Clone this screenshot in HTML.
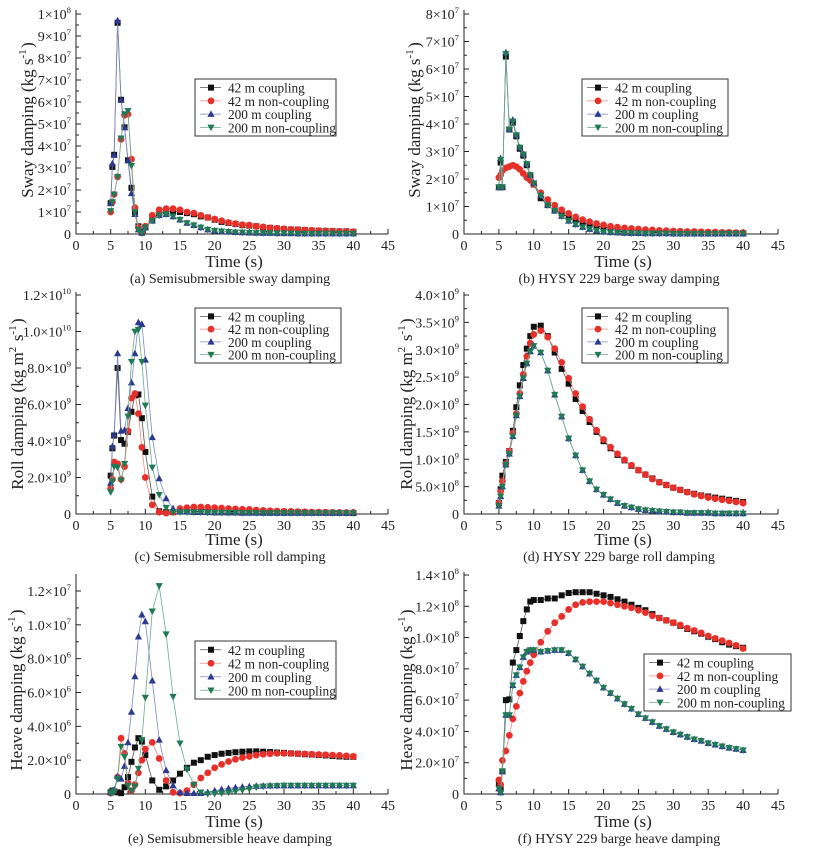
<!DOCTYPE html>
<html><head><meta charset="utf-8"><style>
html,body{margin:0;padding:0;background:#fff;}
svg, svg text, svg tspan{font-family:"Liberation Serif","DejaVu Serif",serif;}
</style></head><body>
<svg id="fig" width="831" height="859" viewBox="0 0 831 859" font-family="Liberation Serif, serif" xmlns="http://www.w3.org/2000/svg"></svg>
<script>
// Shared time grid (s)
const timeGrid = [5,5.25,5.5,6,6.5,7,7.5,8,8.5,9,9.5,10,11,12,13,14,15,16,17,18,19,20,21,22,23,24,25,26,27,28,29,30,31,32,33,34,35,36,37,38,39,40];
const seriesNames = ["42 m coupling","42 m non-coupling","200 m coupling","200 m non-coupling"];
const xTickLabels = ["0","5","10","15","20","25","30","35","40","45"];

// (a) sway semisub, units 1e7
const a42c  = [1.4,3.05,3.6,9.6,6.1,4.85,3.35,2.1,1.0,0.35,0.1,0.3,0.65,0.95,1.0,1.05,1.0,0.95,0.9,0.8,0.75,0.65,0.55,0.5,0.45,0.4,0.38,0.35,0.3,0.28,0.25,0.22,0.2,0.2,0.18,0.16,0.15,0.14,0.13,0.12,0.12,0.1];
const a42nc = [1.0,1.45,1.8,2.6,4.3,5.4,5.45,3.4,1.2,0.3,0.05,0.35,0.85,1.1,1.15,1.15,1.1,1.0,0.95,0.85,0.75,0.68,0.6,0.52,0.47,0.42,0.4,0.35,0.32,0.28,0.26,0.23,0.21,0.2,0.18,0.17,0.15,0.14,0.13,0.12,0.12,0.1];
const a200c = [1.4,3.2,3.6,9.7,6.1,4.85,3.35,1.85,0.9,0.2,0.05,0.3,0.6,0.85,0.9,0.8,0.65,0.5,0.4,0.3,0.2,0.15,0.12,0.1,0.08,0.07,0.06,0.05,0.04,0.04,0.03,0.03,0.03,0.02,0.02,0.02,0.02,0.02,0.02,0.02,0.02,0.02];
const a200nc= [1.05,1.45,1.8,2.6,4.35,5.45,5.6,3.1,1.0,0.2,0.05,0.3,0.6,0.85,0.9,0.8,0.65,0.5,0.4,0.3,0.2,0.15,0.12,0.1,0.08,0.07,0.06,0.05,0.04,0.04,0.03,0.03,0.03,0.02,0.02,0.02,0.02,0.02,0.02,0.02,0.02,0.02];
const aYTicks = ["0","1×10^7","2×10^7","3×10^7","4×10^7","5×10^7","6×10^7","7×10^7","8×10^7","9×10^7","1×10^8"];

// (b) sway barge, units 1e7
const b42c  = [1.7,2.6,1.7,6.45,3.8,4.05,3.55,3.1,2.85,2.5,2.1,1.8,1.3,1.05,0.85,0.75,0.6,0.5,0.42,0.35,0.3,0.25,0.22,0.19,0.16,0.14,0.12,0.11,0.1,0.09,0.08,0.07,0.07,0.06,0.06,0.05,0.05,0.04,0.04,0.04,0.03,0.03];
const b42nc = [2.05,2.15,2.3,2.4,2.45,2.5,2.45,2.35,2.2,2.05,1.95,1.8,1.5,1.25,1.05,0.88,0.75,0.62,0.52,0.45,0.38,0.33,0.28,0.25,0.22,0.2,0.18,0.16,0.15,0.13,0.12,0.11,0.1,0.09,0.09,0.08,0.07,0.07,0.06,0.06,0.05,0.05];
const b200c = [1.7,2.75,1.7,6.6,3.8,4.15,3.6,3.15,2.9,2.55,2.15,1.85,1.4,1.05,0.85,0.65,0.48,0.35,0.25,0.18,0.12,0.08,0.06,0.05,0.04,0.03,0.03,0.02,0.02,0.02,0.02,0.01,0.01,0.01,0.01,0.01,0.01,0.01,0.01,0.01,0.01,0.01];
const b200nc= [1.7,2.7,1.7,6.55,3.8,4.1,3.6,3.15,2.9,2.55,2.15,1.85,1.4,1.05,0.85,0.65,0.48,0.35,0.25,0.18,0.12,0.08,0.06,0.05,0.04,0.03,0.03,0.02,0.02,0.02,0.02,0.01,0.01,0.01,0.01,0.01,0.01,0.01,0.01,0.01,0.01,0.01];
const bYTicks = ["0","1×10^7","2×10^7","3×10^7","4×10^7","5×10^7","6×10^7","7×10^7","8×10^7"];

// (c) roll semisub, units 1e9
const c42c  = [2.1,3.6,4.3,8.0,4.05,3.85,4.5,5.6,6.5,6.55,5.25,3.4,0.95,0.15,0.1,0.1,0.15,0.2,0.22,0.25,0.25,0.22,0.2,0.19,0.18,0.17,0.16,0.15,0.14,0.13,0.12,0.11,0.1,0.1,0.09,0.08,0.08,0.07,0.07,0.06,0.06,0.05];
const c42nc = [1.4,1.9,2.85,2.75,1.9,2.6,4.55,6.35,6.6,5.5,3.65,2.0,0.5,0.1,0.05,0.1,0.3,0.35,0.38,0.38,0.37,0.35,0.33,0.3,0.28,0.26,0.25,0.22,0.2,0.18,0.16,0.15,0.14,0.13,0.12,0.11,0.1,0.1,0.09,0.09,0.08,0.08];
const c200c = [1.7,3.7,4.35,8.8,4.55,4.6,5.8,7.2,8.8,10.5,10.4,8.45,4.2,1.95,0.85,0.3,0.15,0.12,0.1,0.1,0.09,0.08,0.08,0.07,0.07,0.06,0.06,0.06,0.05,0.05,0.05,0.05,0.05,0.05,0.05,0.05,0.05,0.05,0.05,0.05,0.05,0.05];
const c200nc= [1.2,1.8,2.6,2.55,1.85,2.75,5.35,8.35,10.0,10.1,8.35,5.95,2.55,1.05,0.35,0.1,0.1,0.1,0.09,0.09,0.08,0.08,0.07,0.07,0.07,0.06,0.06,0.06,0.05,0.05,0.05,0.05,0.05,0.05,0.05,0.05,0.05,0.05,0.05,0.05,0.05,0.05];
const cYTicks = ["0","2.0×10^9","4.0×10^9","6.0×10^9","8.0×10^9","1.0×10^10","1.2×10^10"];

// (d) roll barge, units 1e9
const d42c  = [0.2,0.45,0.7,0.95,1.15,1.52,1.95,2.35,2.72,3.02,3.25,3.42,3.44,3.25,2.95,2.65,2.38,2.1,1.88,1.68,1.5,1.33,1.2,1.08,0.98,0.88,0.8,0.72,0.65,0.58,0.53,0.48,0.44,0.4,0.37,0.34,0.32,0.3,0.28,0.26,0.24,0.22];
const d42nc = [0.2,0.42,0.6,0.92,1.15,1.48,1.83,2.2,2.55,2.88,3.12,3.28,3.35,3.23,3.02,2.77,2.48,2.2,1.96,1.73,1.53,1.36,1.22,1.1,0.99,0.89,0.8,0.72,0.64,0.58,0.53,0.48,0.44,0.4,0.36,0.33,0.3,0.28,0.26,0.24,0.22,0.2];
const d200c = [0.15,0.32,0.5,0.9,1.1,1.42,1.8,2.15,2.48,2.75,2.97,3.07,2.95,2.62,2.18,1.78,1.38,1.07,0.8,0.6,0.45,0.35,0.27,0.2,0.15,0.12,0.09,0.07,0.06,0.05,0.04,0.03,0.03,0.02,0.02,0.02,0.02,0.01,0.01,0.01,0.01,0.01];
const d200nc= [0.15,0.32,0.5,0.9,1.1,1.42,1.8,2.15,2.48,2.75,2.97,3.07,2.95,2.62,2.18,1.78,1.38,1.07,0.8,0.6,0.45,0.35,0.27,0.2,0.15,0.12,0.09,0.07,0.06,0.05,0.04,0.03,0.03,0.02,0.02,0.02,0.02,0.01,0.01,0.01,0.01,0.01];
const dYTicks = ["0","5.0×10^8","1.0×10^9","1.5×10^9","2.0×10^9","2.5×10^9","3.0×10^9","3.5×10^9","4.0×10^9"];

// (e) heave semisub, units 1e6
const e42c  = [0.1,0.2,0.15,0.1,0.05,0.4,1.0,1.9,2.75,3.3,3.1,2.3,0.8,0.25,0.45,0.8,1.2,1.55,1.85,2.0,2.2,2.3,2.38,2.43,2.47,2.5,2.52,2.52,2.5,2.48,2.45,2.43,2.4,2.38,2.35,2.33,2.3,2.28,2.25,2.22,2.2,2.2];
const e42nc = [0.05,0.1,0.2,1.0,3.3,2.4,0.65,0.2,0.55,1.25,2.0,2.65,3.05,2.1,0.8,0.1,0.05,0.2,0.55,0.95,1.25,1.55,1.75,1.92,2.05,2.15,2.22,2.3,2.35,2.38,2.4,2.4,2.4,2.38,2.37,2.35,2.33,2.32,2.3,2.28,2.25,2.22];
const e200c = [0.1,0.2,0.25,1.05,0.9,1.65,3.05,4.85,6.95,9.3,10.6,10.2,6.7,3.2,1.4,0.5,0.1,0.05,0.05,0.05,0.1,0.2,0.28,0.33,0.38,0.42,0.45,0.47,0.48,0.5,0.5,0.5,0.5,0.5,0.5,0.5,0.5,0.5,0.5,0.5,0.5,0.5];
const e200nc= [0.05,0.1,0.15,0.9,2.8,2.2,0.5,0.2,0.45,1.5,3.2,5.7,10.8,12.3,9.45,5.75,3.0,1.45,0.55,0.1,0.0,0.02,0.05,0.1,0.15,0.22,0.3,0.4,0.45,0.47,0.48,0.5,0.5,0.5,0.5,0.5,0.5,0.5,0.5,0.5,0.5,0.5];
const eYTicks = ["0","2.0×10^6","4.0×10^6","6.0×10^6","8.0×10^6","1.0×10^7","1.2×10^7"];

// (f) heave barge, units 1e7
const f42c  = [0.7,0.3,1.45,6.0,6.05,8.4,9.2,10.1,11.05,11.8,12.3,12.4,12.4,12.5,12.5,12.7,12.85,12.9,12.9,12.9,12.8,12.7,12.6,12.45,12.3,12.1,11.9,11.75,11.5,11.25,11.1,10.95,10.75,10.55,10.4,10.25,10.05,9.9,9.7,9.55,9.45,9.35];
const f42nc = [0.9,0.6,2.15,2.75,3.75,4.8,5.6,6.45,7.2,7.85,8.4,8.9,9.7,10.4,10.95,11.35,11.8,12.1,12.25,12.3,12.3,12.3,12.2,12.1,12.0,11.9,11.75,11.6,11.4,11.25,11.1,10.95,10.8,10.6,10.45,10.3,10.1,9.95,9.8,9.65,9.5,9.3];
const f200c = [0.35,0.1,1.45,5.05,5.05,6.95,7.6,8.1,8.75,9.1,9.2,9.2,9.1,9.15,9.2,9.2,9.0,8.6,8.15,7.7,7.25,6.8,6.45,6.1,5.75,5.45,5.1,4.85,4.6,4.35,4.15,3.95,3.8,3.65,3.5,3.4,3.25,3.15,3.05,2.95,2.88,2.8];
const f200nc= [0.35,0.1,1.45,5.05,5.05,6.95,7.6,8.1,8.75,9.1,9.2,9.2,9.1,9.15,9.2,9.2,9.0,8.6,8.15,7.7,7.25,6.8,6.45,6.1,5.75,5.45,5.1,4.85,4.6,4.35,4.15,3.95,3.8,3.65,3.5,3.4,3.25,3.15,3.05,2.95,2.88,2.8];
const fYTicks = ["0","2.0×10^7","4.0×10^7","6.0×10^7","8.0×10^7","1.0×10^8","1.2×10^8","1.4×10^8"];

const NS="http://www.w3.org/2000/svg";
const svg=document.getElementById('fig');
const FONT='"Liberation Serif", "DejaVu Serif", serif';
const COLORS=["#111111","#e8302a","#2b3a8f","#217a55"];
const LINECOL=["#555","#f08a80","#7f88c0","#6aab8e"];
function mk(tag,attrs,parent){const e=document.createElementNS(NS,tag);for(const k in attrs)e.setAttribute(k,attrs[k]);if(tag==='text')e.style.fontFamily=FONT;(parent||svg).appendChild(e);return e;}
function sciText(parent,x,y,label,anchor,size){
  const t=mk('text',{x:x,y:y,'text-anchor':anchor,'font-size':size,fill:'#222'},parent);
  const p=label.split('^');
  t.appendChild(document.createTextNode(p[0]));
  if(p[1]){const s=mk('tspan',{dy:-6,'font-size':size*0.62},t);s.textContent=p[1];}
  return t;
}
function marker(g,type,x,y,c){
  const r=3;
  if(type===0)return mk('rect',{x:x-r,y:y-r,width:2*r,height:2*r,fill:c},g);
  if(type===1)return mk('circle',{cx:x,cy:y,r:3.4,fill:c},g);
  if(type===2)return mk('polygon',{points:`${x},${y-3.8} ${x-3.6},${y+2.8} ${x+3.6},${y+2.8}`,fill:c},g);
  return mk('polygon',{points:`${x},${y+3.8} ${x-3.6},${y-2.8} ${x+3.6},${y-2.8}`,fill:c},g);
}
function panel(cfg){
  const g=mk('g',{});
  
  
  const {x0,x45,y0,yTop,ymax,scale}=cfg;
  const sx=v=>x0+(x45-x0)*v/45;
  const sy=v=>y0-(y0-yTop)*v/ymax;
  const ax=mk('path',{d:`M${x0},${cfg.axTop} L${x0},${y0} L${x45},${y0}`,stroke:'#222','stroke-width':1,fill:'none'},g);
  
  
  xTickLabels.forEach((lab,i)=>{
    const v=+lab;
    mk('line',{x1:sx(v),y1:y0,x2:sx(v),y2:y0-5,stroke:'#222'},g);
    if(i<xTickLabels.length-1)mk('line',{x1:sx(v+2.5),y1:y0,x2:sx(v+2.5),y2:y0-3,stroke:'#222'},g);
    const t=mk('text',{x:sx(v),y:y0+16,'text-anchor':'middle','font-size':14,fill:'#222'},g);
    t.textContent=lab;
    
    
  });
  const n=cfg.yTicks.length;
  cfg.yTicks.forEach((lab,i)=>{
    const v=ymax*i/(n-1);
    mk('line',{x1:x0,y1:sy(v),x2:x0+5,y2:sy(v),stroke:'#222'},g);
    if(i<n-1)mk('line',{x1:x0,y1:sy(v+ymax/(n-1)/2),x2:x0+3,y2:sy(v+ymax/(n-1)/2),stroke:'#222'},g);
    const t=sciText(g,x0-5,sy(v)+5,lab,'end',14);
    
    
  });
  cfg.series.forEach((vals,si)=>{
    const sg=mk('g',{},g);
    
    
    const pts=vals.map((v,i)=>sx(timeGrid[i])+','+sy(v*scale)).join(' ');
    mk('polyline',{points:pts,fill:'none',stroke:LINECOL[si],'stroke-width':0.8},sg);
    vals.forEach((v,i)=>{const m=marker(sg,si,sx(timeGrid[i]),sy(v*scale),COLORS[si]);
      
      });
  });
  const L=cfg.legend;
  const lg=mk('g',{},g);
  
  
  mk('rect',{x:L[0],y:L[1],width:L[2],height:L[3],fill:'#fff',stroke:'#333','stroke-width':1},lg);
  const rh=(L[3]-4)/4;
  seriesNames.forEach((nm,i)=>{
    const yy=L[1]+2+rh*(i+0.5);
    mk('line',{x1:L[0]+5,y1:yy,x2:L[0]+26,y2:yy,stroke:LINECOL[i],'stroke-width':0.8},lg);
    marker(lg,i,L[0]+16,yy,COLORS[i]);
    const t=mk('text',{x:L[0]+33,y:yy+5,'font-size':13.3,fill:'#222'},lg);
    t.textContent=nm;
    
    
  });
  const xt=mk('text',{x:(x0+x45)/2+2,y:cfg.xtY,'text-anchor':'middle','font-size':17,fill:'#222'},g);
  xt.textContent='Time (s)';
  
  
  const cap=mk('text',{x:(x0+x45)/2-2,y:cfg.xtY+16,'text-anchor':'middle','font-size':14,fill:'#222'},g);
  cap.textContent=cfg.caption;
  
  
  const yt=mk('text',{transform:`translate(${cfg.ytX},${cfg.ytY}) rotate(-90)`,'text-anchor':'middle','font-size':17,fill:'#222'},g);
  cfg.ytitle.forEach(([s,sup])=>{
    const a=mk('tspan',{},yt);a.textContent=s;
    if(sup){const b=mk('tspan',{dy:-7,'font-size':11},yt);b.textContent=sup;const c=mk('tspan',{dy:7},yt);c.textContent='\u200a';}
  });
  
  
}
const swayT=[["Sway damping (kg s","-1"],[")"]];
panel({name:'panel-a-semisub-sway',x0:76,x45:388,y0:234,yTop:14,axTop:10,ymax:1e8,scale:1e7,yTicks:aYTicks,series:[a42c,a42nc,a200c,a200nc],legend:[195,79,141,57],xtY:267,caption:'(a) Semisubmersible sway damping',ytX:33,ytY:120,ytitle:swayT});
panel({name:'panel-b-barge-sway',x0:464,x45:778,y0:234,yTop:14,axTop:10,ymax:8e7,scale:1e7,yTicks:bYTicks,series:[b42c,b42nc,b200c,b200nc],legend:[582,79,146,57],xtY:267,caption:'(b) HYSY 229 barge sway damping',ytX:420,ytY:120,ytitle:swayT});
const rollT=[["Roll damping (kg m","2"],[" s","-1"],[")"]];
panel({name:'panel-c-semisub-roll',x0:76,x45:388,y0:514,yTop:295,axTop:292,ymax:1.2e10,scale:1e9,yTicks:cYTicks,series:[c42c,c42nc,c200c,c200nc],legend:[195,308,146,55],xtY:545,caption:'(c) Semisubmersible roll damping',ytX:23,ytY:404,ytitle:rollT});
panel({name:'panel-d-barge-roll',x0:464,x45:778,y0:514,yTop:295,axTop:292,ymax:4e9,scale:1e9,yTicks:dYTicks,series:[d42c,d42nc,d200c,d200nc],legend:[582,308,146,55],xtY:545,caption:'(d) HYSY 229 barge roll damping',ytX:412,ytY:404,ytitle:rollT});
const heaveT=[["Heave damping (kg s","-1"],[")"]];
panel({name:'panel-e-semisub-heave',x0:76,x45:388,y0:794,yTop:591,axTop:574,ymax:1.2e7,scale:1e6,yTicks:eYTicks,series:[e42c,e42nc,e200c,e200nc],legend:[195,641,141,58],xtY:827,caption:'(e) Semisubmersible heave damping',ytX:22,ytY:690,ytitle:heaveT});
panel({name:'panel-f-barge-heave',x0:464,x45:778,y0:794,yTop:575,axTop:572,ymax:1.4e8,scale:1e7,yTicks:fYTicks,series:[f42c,f42nc,f200c,f200nc],legend:[644,654,147,57],xtY:827,caption:'(f) HYSY 229 barge heave damping',ytX:412,ytY:690,ytitle:heaveT});
</script>
</body></html>
